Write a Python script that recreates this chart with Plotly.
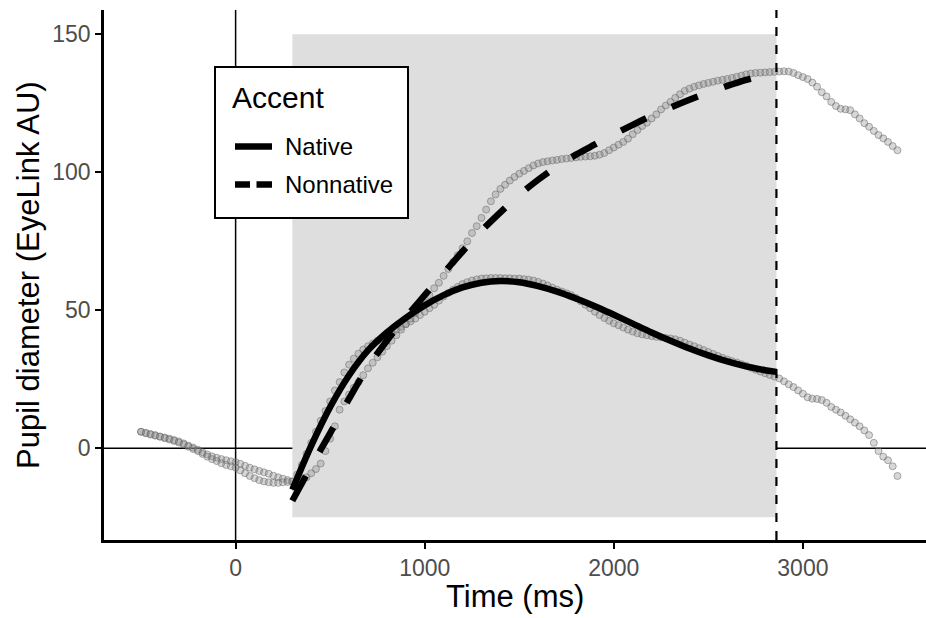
import plotly.graph_objects as go

# ---------------- data ----------------
time_ms = list(range(-500, 3501, 25))

native_obs = [
    6.0, 5.6, 5.2, 4.8, 4.3, 3.9, 3.5, 3.0, 2.5, 1.8, 1.0, 0.3, -0.5, -1.4, -2.2, -2.9,
    -3.4, -3.9, -4.3, -4.7, -5.0, -5.6, -6.3, -7.0, -7.6, -8.2, -8.7, -9.2, -9.9, -10.5,
    -11.0, -11.5, -12.0, -9.5, -6.0, -2.0, 2.0, 6.0, 10.0, 13.5, 17.0, 21.0, 24.0, 27.5,
    30.3, 32.5, 34.3, 35.8, 37.0, 38.0, 39.0, 40.0, 41.0, 42.0, 43.0, 44.0, 45.0, 46.0,
    47.0, 48.3, 49.5, 50.8, 52.0, 53.5, 55.0, 56.3, 57.5, 58.5, 59.5, 60.2, 60.8, 61.2,
    61.5, 61.6, 61.7, 61.7, 61.7, 61.6, 61.6, 61.5, 61.5, 61.3, 61.1, 60.8, 60.3, 59.7,
    59.0, 58.2, 57.5, 56.8, 56.2, 55.5, 54.5, 53.3, 52.0, 50.8, 49.5, 48.3, 47.2, 46.2,
    45.3, 44.6, 43.8, 43.0, 42.3, 41.7, 41.3, 41.0, 40.7, 40.4, 40.2, 40.0, 39.8, 39.5,
    39.0, 38.3, 37.6, 37.0, 36.3, 35.6, 34.9, 34.2, 33.5, 32.8, 32.2, 31.6, 31.1, 30.5,
    29.9, 29.2, 28.5, 27.8, 27.2, 26.6, 26.0, 25.3, 24.3, 23.2, 22.2, 21.0, 19.8, 18.5,
    18.0, 17.9, 17.5, 16.5, 15.0, 14.0, 13.0, 11.8, 10.5, 9.3, 8.0, 6.5, 4.8, 2.0,
    -1.0, -3.0, -4.3, -6.5, -10.0,
]

nonnative_obs = [
    6.0, 5.5, 5.0, 4.6, 4.2, 3.7, 3.2, 2.7, 2.1, 1.4, 0.6, -0.2, -1.0, -2.0, -3.0, -3.9,
    -4.6, -5.4, -6.0, -6.5, -7.0, -8.0, -9.0, -10.0, -10.8, -11.5, -12.0, -12.3, -12.5, -12.5,
    -12.3, -12.2, -12.0, -12.0, -11.5, -10.5, -9.0, -7.5, -5.5, -1.0, 3.5, 8.0, 14.0, 17.0,
    19.5, 22.0, 24.0, 26.5, 29.0, 31.0, 33.0, 35.0, 37.0, 39.0, 41.0, 43.0, 45.0, 47.0,
    49.0, 51.0, 53.0, 55.5, 58.0, 60.0, 62.5, 65.0, 67.5, 70.0, 72.5, 75.0, 78.0, 80.5,
    83.5, 86.5, 89.5, 92.0, 94.0, 95.5, 97.0, 98.3, 99.5, 100.5, 101.5, 102.5, 103.2, 103.7,
    104.0, 104.3, 104.5, 104.8, 105.0, 105.2, 105.4, 105.6, 105.7, 105.8, 106.0, 106.4, 107.0, 108.0,
    109.0, 110.0, 111.0, 112.2, 113.8, 115.3, 116.8, 118.0, 119.5, 121.0, 122.8, 124.2, 125.5, 127.0,
    128.3, 129.5, 130.3, 131.0, 131.5, 132.0, 132.4, 132.8, 133.2, 133.5, 133.8, 134.2, 134.6, 135.0,
    135.5, 135.8, 136.0, 136.1, 136.2, 136.3, 136.4, 136.5, 136.6, 136.5, 136.0, 135.2, 134.5, 133.8,
    132.5, 131.0, 129.0, 127.5, 125.5, 124.0, 123.0, 122.8, 122.5, 121.0, 119.5, 117.8, 116.5, 115.0,
    113.5, 112.3, 111.0, 109.5, 108.0,
]

fit_time = [300, 400, 500, 600, 700, 800, 900, 1000, 1100, 1200, 1300, 1400, 1500, 1600,
            1700, 1800, 1900, 2000, 2100, 2200, 2300, 2400, 2500, 2600, 2700, 2800, 2860]
native_fit = [-15.0, 1.0, 15.0, 26.5, 35.5, 42.0, 47.3, 51.8, 55.5, 58.3, 60.0, 60.6, 60.2, 58.8,
              56.8, 54.3, 51.5, 48.4, 45.2, 42.0, 39.0, 36.2, 33.7, 31.5, 29.7, 28.3, 27.7]
nonnative_fit = [-19.0, -6.5, 5.5, 18.0, 29.5, 39.0, 47.5, 55.5, 63.5, 71.3, 78.8, 85.5, 91.8, 97.3,
                 102.2, 106.4, 110.1, 113.7, 117.2, 120.5, 123.5, 126.3, 128.9, 131.3, 133.5, 135.3, 136.3]

window_start, window_end = 300, 2860
window_low, window_high = -25, 150

x_ticks = [0, 1000, 2000, 3000]
y_ticks = [0, 50, 100, 150]
legend_title = "Accent"
legend_labels = ["Native", "Nonnative"]

assert len(native_obs) == len(time_ms), len(native_obs)
assert len(nonnative_obs) == len(time_ms), len(nonnative_obs)

# ---------------- layout helpers ----------------
W, H = 926, 618
L, R, T, B = 104, 0, 10, 78
PW, PH = W - L - R, H - T - B


def px(x):
    return (x - L) / PW


def py(y):
    return (H - B - y) / PH


FONT = "Liberation Sans, Arial, Helvetica, sans-serif"

fig = go.Figure()

pt_marker = dict(size=7, color="rgba(140,140,140,0.35)",
                 line=dict(color="rgba(100,100,100,0.5)", width=1))
fig.add_trace(go.Scatter(x=time_ms, y=native_obs, mode="markers", marker=pt_marker,
                         showlegend=False, hoverinfo="skip"))
fig.add_trace(go.Scatter(x=time_ms, y=nonnative_obs, mode="markers", marker=pt_marker,
                         showlegend=False, hoverinfo="skip"))
fig.add_trace(go.Scatter(x=fit_time, y=native_fit, mode="lines",
                         line=dict(color="black", width=6.5, shape="spline"),
                         name=legend_labels[0], showlegend=False))
fig.add_trace(go.Scatter(x=fit_time, y=nonnative_fit, mode="lines",
                         line=dict(color="black", width=6.5, shape="spline", dash="28px,28px"),
                         name=legend_labels[1], showlegend=False))

shapes = [
    dict(type="rect", xref="x", yref="y", x0=window_start, x1=window_end,
         y0=window_low, y1=window_high, fillcolor="#DEDEDE", line=dict(width=0), layer="below"),
    dict(type="line", xref="paper", yref="y", x0=0, x1=1, y0=0, y1=0,
         line=dict(color="black", width=1.5), layer="below"),
    dict(type="line", xref="x", yref="paper", x0=0, x1=0, y0=0, y1=1,
         line=dict(color="black", width=1.5), layer="below"),
    dict(type="line", xref="x", yref="paper", x0=window_end, x1=window_end, y0=0, y1=1,
         line=dict(color="black", width=2.2, dash="9px,9px"), layer="above"),
    # legend box
    dict(type="rect", xref="paper", yref="paper", x0=px(215), x1=px(408), y0=py(218), y1=py(67),
         fillcolor="white", line=dict(color="black", width=2), layer="above"),
    dict(type="line", xref="paper", yref="paper", x0=px(235), x1=px(272), y0=py(146.5), y1=py(146.5),
         line=dict(color="black", width=6.5), layer="above"),
    dict(type="line", xref="paper", yref="paper", x0=px(235), x1=px(250), y0=py(184.5), y1=py(184.5),
         line=dict(color="black", width=6.5), layer="above"),
    dict(type="line", xref="paper", yref="paper", x0=px(256.5), x1=px(272), y0=py(184.5), y1=py(184.5),
         line=dict(color="black", width=6.5), layer="above"),
]

annotations = [
    dict(text=legend_title, xref="paper", yref="paper", x=px(230), y=py(97.5),
         xanchor="left", yanchor="middle", showarrow=False, font=dict(size=30, color="black", family=FONT)),
    dict(text=legend_labels[0], xref="paper", yref="paper", x=px(283), y=py(146),
         xanchor="left", yanchor="middle", showarrow=False, font=dict(size=24, color="black", family=FONT)),
    dict(text=legend_labels[1], xref="paper", yref="paper", x=px(283), y=py(184.5),
         xanchor="left", yanchor="middle", showarrow=False, font=dict(size=24, color="black", family=FONT)),
    dict(text="Time (ms)", xref="paper", yref="paper", x=0.5, y=py(596),
         xanchor="center", yanchor="middle", showarrow=False, font=dict(size=31, color="black", family=FONT)),
    dict(text="Pupil diameter (EyeLink AU)", xref="paper", yref="paper", x=px(28), y=0.5,
         xanchor="center", yanchor="middle", textangle=-90, showarrow=False,
         font=dict(size=31, color="black", family=FONT)),
]

fig.update_layout(
    width=W, height=H,
    margin=dict(l=L, r=R, t=T, b=B, pad=0),
    paper_bgcolor="white", plot_bgcolor="white",
    font=dict(family=FONT),
    shapes=shapes, annotations=annotations, showlegend=False,
    xaxis=dict(range=[-696, 3651], tickvals=x_ticks, ticktext=[str(v) for v in x_ticks],
               showgrid=False, zeroline=False, showline=True, linecolor="black", linewidth=2.5,
               ticks="outside", ticklen=6, tickwidth=2, tickcolor="black",
               tickfont=dict(size=23, color="#4D4D4D", family=FONT)),
    yaxis=dict(range=[-33.2, 158.8], tickvals=y_ticks, ticktext=[str(v) for v in y_ticks],
               showgrid=False, zeroline=False, showline=True, linecolor="black", linewidth=2.5,
               ticks="outside", ticklen=6, tickwidth=2, tickcolor="black",
               tickfont=dict(size=23, color="#4D4D4D", family=FONT)),
)

fig.write_html("out.html", config={"displayModeBar": False},
               post_script="document.body.style.margin='0';document.body.style.overflow='hidden';")
